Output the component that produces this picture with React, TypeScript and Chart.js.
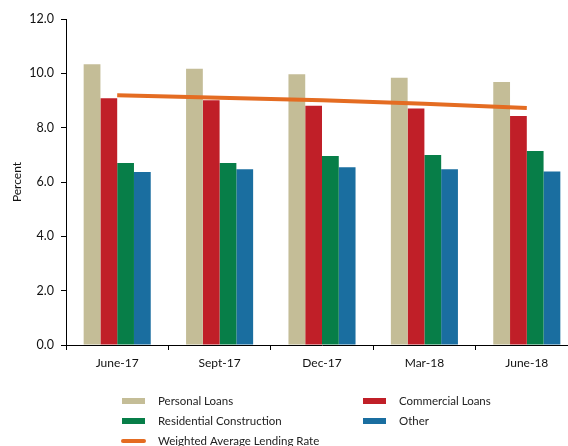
import React, { useEffect, useRef } from "react";
import { Chart, registerables } from "chart.js";

Chart.register(...registerables);

const categories = ["June-17", "Sept-17", "Dec-17", "Mar-18", "June-18"];
const personalLoans = [10.33, 10.17, 9.97, 9.84, 9.68];
const commercialLoans = [9.08, 9.01, 8.81, 8.71, 8.43];
const residentialConstruction = [6.7, 6.7, 6.96, 6.99, 7.14];
const other = [6.37, 6.47, 6.54, 6.47, 6.39];
const weightedAverage = [9.19, 9.1, 9.01, 8.88, 8.72];
const yTicks = [0, 2, 4, 6, 8, 10, 12];

const FONT = "Lato";

const legendPlugin = {
  id: "customLegend",
  afterDraw(chart: any) {
    const ctx = chart.ctx;
    const ds = chart.data.datasets;
    // [datasetIndex, swatchX, textX, centerY]
    const layout: [number, number, number, number][] = [
      [0, 122, 158, 401],
      [1, 363, 399, 401],
      [2, 122, 158, 421],
      [3, 363, 399, 421],
      [4, 122, 158, 441],
    ];
    ctx.save();
    ctx.font = `11.5px ${FONT}`;
    ctx.textBaseline = "middle";
    ctx.textAlign = "left";
    for (const [i, sx, tx, cy] of layout) {
      const d = ds[i];
      if (d.type === "line") {
        ctx.strokeStyle = d.borderColor;
        ctx.lineWidth = 4;
        ctx.lineCap = "round";
        ctx.beginPath();
        ctx.moveTo(sx + 1, cy);
        ctx.lineTo(sx + 22, cy);
        ctx.stroke();
      } else {
        ctx.fillStyle = d.backgroundColor;
        ctx.fillRect(sx, cy - 3, 23, 6);
      }
      ctx.fillStyle = "#222";
      ctx.fillText(d.label, tx, cy);
    }
    ctx.restore();
  },
};

export default function App() {
  const ref = useRef<HTMLCanvasElement>(null);
  useEffect(() => {
    if (!ref.current) return;
    const chart = new Chart(ref.current, {
      type: "bar",
      data: {
        labels: categories,
        datasets: [
          { type: "bar", label: "Personal Loans", data: personalLoans, backgroundColor: "#C4BD97", order: 1 },
          { type: "bar", label: "Commercial Loans", data: commercialLoans, backgroundColor: "#C01F28", order: 1 },
          { type: "bar", label: "Residential Construction", data: residentialConstruction, backgroundColor: "#077E48", order: 1 },
          { type: "bar", label: "Other", data: other, backgroundColor: "#1A6EA0", order: 1 },
          {
            type: "line",
            label: "Weighted Average Lending Rate",
            data: weightedAverage,
            borderColor: "#E46C22",
            backgroundColor: "#E46C22",
            borderWidth: 4,
            pointRadius: 0,
            tension: 0,
            order: 0,
          } as any,
        ],
      },
      options: {
        responsive: false,
        animation: false,
        devicePixelRatio: 1,
        layout: { padding: { left: 0, right: 0, top: 19, bottom: 0 } },
        datasets: {
          bar: { categoryPercentage: 0.655, barPercentage: 1.0 },
        } as any,
        plugins: {
          legend: { display: false },
          tooltip: { enabled: false },
        },
        scales: {
          x: {
            grid: {
              display: true,
              drawOnChartArea: false,
              drawTicks: true,
              tickLength: 5,
              color: "#000",
              offset: true,
            },
            border: { display: true, color: "#000", width: 1 },
            ticks: { color: "#111", font: { family: FONT, size: 12 }, padding: 6, maxRotation: 0 },
            afterFit: (s: any) => {
              s.height = 101;
            },
          },
          y: {
            min: 0,
            max: 12,
            afterBuildTicks: (s: any) => {
              s.ticks = yTicks.map((v) => ({ value: v }));
            },
            grid: { display: true, drawOnChartArea: false, drawTicks: true, tickLength: 5, color: "#000" },
            border: { display: true, color: "#000", width: 1 },
            ticks: {
              color: "#111",
              font: { family: FONT, size: 12.5 },
              padding: 7,
              callback: (v: any) => Number(v).toFixed(1),
            },
            title: {
              display: true,
              text: "Percent",
              color: "#111",
              font: { family: FONT, size: 12 },
              padding: { top: 10, bottom: 0 },
            },
            afterFit: (s: any) => {
              s.width = 66;
            },
          },
        },
      },
      plugins: [legendPlugin],
    });
    return () => chart.destroy();
  }, []);
  return (
    <div
      style={{
        position: "fixed",
        left: 0,
        top: 0,
        width: 568,
        height: 446,
        overflow: "hidden",
        background: "#fff",
      }}
    >
      <canvas ref={ref} width={578} height={446} style={{ display: "block" }} />
    </div>
  );
}
